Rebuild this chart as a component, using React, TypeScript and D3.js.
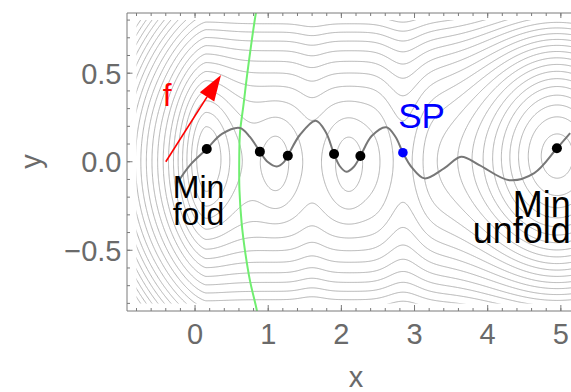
import { useMemo } from 'react';
import * as d3 from 'd3';

const W = 571;
const H = 392;
const margin = { left: 127, top: 13, right: 585, bottom: 311 };

// axes
const xDomain = [-0.93, 5.33];
const yDomain = [-0.843, 0.84];
const xTickValues = [0, 1, 2, 3, 4, 5];
const yTickValues = [-0.5, 0, 0.5];
const yTickLabels = ['\u22120.5', '0.0', '0.5'];

// region covered by the contour plot
const plotX = [-0.8, 5.2];
const plotY = [-0.8, 0.8];

// minimum energy path
const pathX = [-0.245, -0.068, 0.16, 0.368, 0.614, 0.75, 0.886, 0.995, 1.118, 1.214, 1.268, 1.432, 1.65, 1.786, 1.9, 1.977, 2.069, 2.168, 2.26, 2.414, 2.614, 2.741, 2.841, 2.959, 3.136, 3.409, 3.637, 3.886, 4.296, 4.636, 4.946, 5.127];
const pathY = [-0.121, -0.019, 0.072, 0.157, 0.191, 0.14, 0.057, -0.002, -0.027, -0.002, 0.034, 0.151, 0.232, 0.168, 0.044, -0.024, -0.057, -0.03, 0.032, 0.145, 0.195, 0.14, 0.051, -0.03, -0.094, -0.036, 0.028, -0.019, -0.104, -0.064, 0.076, 0.162];

// local minima along the path
const minX = [0.16, 0.886, 1.268, 1.9, 2.26, 4.946];
const minY = [0.072, 0.057, 0.034, 0.044, 0.032, 0.076];
// saddle point
const spX = [2.841];
const spY = [0.051];

// green dividing curve
const greenX = [0.86, 0.832, 0.727, 0.659, 0.614, 0.604, 0.607, 0.637, 0.682, 0.75, 0.845, 0.87];
const greenY = [0.9, 0.841, 0.538, 0.311, 0.162, 0.01, -0.16, -0.347, -0.5, -0.67, -0.84, -0.9];

// force arrow
const forceX = [-0.4, 0.355];
const forceY = [0.0, 0.49];

// potential landscape (contour units)
const wellCx = [0.15, 1.1, 1.6, 2.1, 2.85, 4.95];
const wellCy = [0.03, -0.02, 0.0, -0.03, 0.0, 0.06];
const wellDepth = [-3.5, -1.2, 0.8, -1.2, 2.0, -10];
const wellSx = [0.25, 0.15, 0.15, 0.15, 0.2, 0.7];
const wellSy = [0.32, 0.18, 0.6, 0.18, 0.6, 0.55];
const stiffY = 14;
const wallX = 0.15;
const wallA = 10;
const wallP = 1.4;

function potential(x: number, y: number) {
  let v = stiffY * y * y + wallA * Math.pow(Math.max(0, wallX - x), wallP);
  for (let i = 0; i < wellCx.length; i++) {
    const dx = (x - wellCx[i]) / wellSx[i];
    const dy = (y - wellCy[i]) / wellSy[i];
    v += wellDepth[i] * Math.exp(-0.5 * (dx * dx + dy * dy));
  }
  return v;
}

const FONT = '"Liberation Sans", Arial, sans-serif';
const GRAY = '#6a6a6a';

export default function App() {
  const xs = d3.scaleLinear().domain(xDomain).range([margin.left, margin.right]);
  const ys = d3.scaleLinear().domain(yDomain).range([margin.bottom, margin.top]);

  const contourPaths = useMemo(() => {
    const x0 = plotX[0] - 0.05, x1 = plotX[1] + 0.05;
    const y0 = plotY[0] - 0.05, y1 = plotY[1] + 0.05;
    const dx = 0.01, dy = 0.005;
    const nx = Math.round((x1 - x0) / dx) + 1;
    const ny = Math.round((y1 - y0) / dy) + 1;
    const values = new Array(nx * ny);
    for (let j = 0; j < ny; j++) {
      for (let i = 0; i < nx; i++) {
        values[i + j * nx] = potential(x0 + i * dx, y0 + j * dy);
      }
    }
    const levels = d3.range(-15.5, 60, 1);
    const contours = d3.contours().size([nx, ny]).thresholds(levels)(values);
    const proj = d3.geoTransform({
      point(px: number, py: number) {
        this.stream.point(xs(x0 + (px - 0.5) * dx), ys(y0 + (py - 0.5) * dy));
      },
    });
    const gp = d3.geoPath(proj);
    return contours.map((c) => gp(c as any) || '');
  }, []);

  const pathPts = pathX.map((x, i) => [x, pathY[i]] as [number, number]);
  const line = d3.line<[number, number]>()
    .x((d) => xs(d[0]))
    .y((d) => ys(d[1]))
    .curve(d3.curveCatmullRom.alpha(0.5));
  const greenPts = greenX.map((x, i) => [x, greenY[i]] as [number, number]);

  // arrow geometry
  const ax0 = xs(forceX[0]), ay0 = ys(forceY[0]);
  const ax1 = xs(forceX[1]), ay1 = ys(forceY[1]);
  const len = Math.hypot(ax1 - ax0, ay1 - ay0);
  const ux = (ax1 - ax0) / len, uy = (ay1 - ay0) / len;
  const headL = 26, headW = 8.5;
  const bx = ax1 - ux * headL, by = ay1 - uy * headL;
  const head = `M${ax1},${ay1}L${bx - uy * headW},${by + ux * headW}L${bx + uy * headW},${by - ux * headW}Z`;

  const xMinor = d3.range(-0.8, 5.3, 0.2);
  const yMinor = d3.range(-0.8, 0.85, 0.1);

  const clipX = xs(plotX[0]), clipW = xs(plotX[1]) - xs(plotX[0]);
  const clipY = ys(plotY[1]), clipH = ys(plotY[0]) - ys(plotY[1]);

  return (
    <svg width={W} height={H} style={{ position: 'absolute', left: 0, top: 0, background: '#fff' }}>
      <defs>
        <clipPath id="plotClip">
          <rect x={clipX} y={clipY} width={clipW} height={clipH} />
        </clipPath>
        <clipPath id="frameClip">
          <rect x={margin.left} y={margin.top} width={margin.right - margin.left} height={margin.bottom - margin.top} />
        </clipPath>
      </defs>

      <g clipPath="url(#plotClip)">
        {contourPaths.map((d, i) => (
          <path key={i} d={d} fill="none" stroke="#b0b0b0" strokeWidth={1} />
        ))}
      </g>

      <g clipPath="url(#frameClip)">
        <path d={line(greenPts) || ''} fill="none" stroke="#70ee70" strokeWidth={2} />
        <path d={line(pathPts) || ''} fill="none" stroke="#777" strokeWidth={2} />
        {minX.map((x, i) => (
          <circle key={i} cx={xs(x)} cy={ys(minY[i])} r={5} fill="#000" />
        ))}
        {spX.map((x, i) => (
          <circle key={i} cx={xs(x)} cy={ys(spY[i])} r={4.8} fill="#0000ff" />
        ))}
        <line x1={ax0} y1={ay0} x2={bx} y2={by} stroke="#ff0000" strokeWidth={1.6} />
        <path d={head} fill="#ff0000" />
      </g>

      {/* annotations */}
      <g fontFamily={FONT}>
        <text x={xs(-0.38)} y={ys(0.315)} fill="#ff0000" fontSize={32} textAnchor="middle">f</text>
        <text x={xs(3.095)} y={ys(0.19)} fill="#0000ff" fontSize={35} textAnchor="middle">SP</text>
        <text x={xs(-0.305)} y={ys(-0.204)} fill="#000" fontSize={32}>Min</text>
        <text x={xs(-0.305)} y={ys(-0.358)} fill="#000" fontSize={32}>fold</text>
        <text x={xs(4.343)} y={ys(-0.311)} fill="#000" fontSize={36}>Min</text>
        <text x={xs(3.795)} y={ys(-0.46)} fill="#000" fontSize={36}>unfold</text>
      </g>

      {/* frame */}
      <g stroke="#7a7a7a" strokeWidth={1}>
        <line x1={margin.left} x2={margin.left} y1={margin.top} y2={margin.bottom} />
        <line x1={margin.left} x2={margin.right} y1={margin.bottom} y2={margin.bottom} />
        <line x1={margin.left} x2={margin.right} y1={margin.top} y2={margin.top} />
        {xMinor.map((t, i) => (
          <g key={'xm' + i}>
            <line x1={xs(t)} x2={xs(t)} y1={margin.bottom} y2={margin.bottom - 3} />
            <line x1={xs(t)} x2={xs(t)} y1={margin.top} y2={margin.top + 3} />
          </g>
        ))}
        {xTickValues.map((t, i) => (
          <g key={'xM' + i}>
            <line x1={xs(t)} x2={xs(t)} y1={margin.bottom} y2={margin.bottom - 6} />
            <line x1={xs(t)} x2={xs(t)} y1={margin.top} y2={margin.top + 5} />
          </g>
        ))}
        {yMinor.map((t, i) => (
          <line key={'ym' + i} x1={margin.left} x2={margin.left + 3} y1={ys(t)} y2={ys(t)} />
        ))}
        {yTickValues.map((t, i) => (
          <line key={'yM' + i} x1={margin.left} x2={margin.left + 5.5} y1={ys(t)} y2={ys(t)} />
        ))}
      </g>

      <g fontFamily={FONT} fill={GRAY} fontSize={29}>
        {xTickValues.map((t, i) => (
          <text key={'xl' + i} x={xs(t)} y={343.5} textAnchor="middle">{t}</text>
        ))}
        {yTickValues.map((t, i) => (
          <text key={'yl' + i} x={121.5} y={ys(t) + 10.5} textAnchor="end">{yTickLabels[i]}</text>
        ))}
        <text x={356} y={387} textAnchor="middle">x</text>
        <text transform={`translate(40.5, 161.5) rotate(-90)`} textAnchor="middle">y</text>
      </g>
    </svg>
  );
}
